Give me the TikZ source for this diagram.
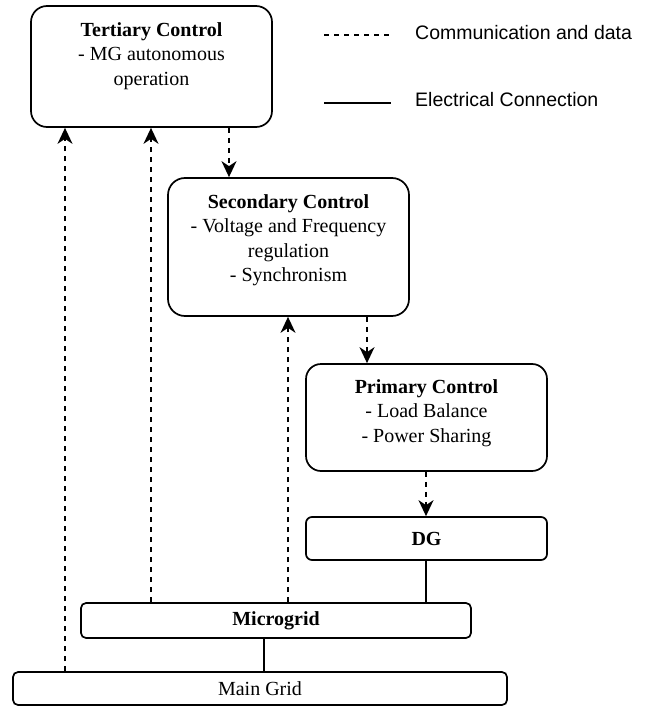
\documentclass[tikz,border=0pt]{standalone}
\usepackage{fontspec}
\setmainfont{Liberation Serif}
\newfontfamily\legendfont{Liberation Sans}
\usetikzlibrary{arrows.meta}
\begin{document}
\begin{tikzpicture}[x=1pt,y=-1pt,
  box/.style={draw, line width=1.7pt, inner sep=0pt,
    font=\fontsize{20}{24.5}\selectfont},
  txt/.style={align=center, inner sep=0pt, font=\fontsize{20}{24.5}\selectfont},
  comm/.style={line width=1.7pt, dash pattern=on 5.5pt off 4.5pt,
    -{Stealth[length=16pt,width=15pt,inset=5pt]}},
  elec/.style={line width=1.7pt},
  legtxt/.style={anchor=west, inner sep=0pt, font=\legendfont\fontsize{19.5}{23}\selectfont},
]
\useasboundingbox (0,0) rectangle (646,706);

% control hierarchy boxes
\node[box, rounded corners=16pt, minimum width=241pt, minimum height=121pt] (ter) at (151.5,66.5) {};
\node[txt, anchor=north] (terT) at (151.5,22.3) {\textbf{Tertiary Control}\\- MG autonomous\\operation};

\node[box, rounded corners=17pt, minimum width=241pt, minimum height=138pt] (sec) at (288.5,247) {};
\node[txt, anchor=north] (secT) at (288.5,194.3) {\textbf{Secondary Control}\\- Voltage and Frequency\\regulation\\- Synchronism};

\node[box, rounded corners=15pt, minimum width=241pt, minimum height=107pt] (pri) at (426.5,417.5) {};
\node[txt, anchor=north] (priT) at (426.5,379.3) {\textbf{Primary Control}\\- Load Balance\\- Power Sharing};

% grid elements
\node[box, rounded corners=6pt, minimum width=241pt, minimum height=43pt] (dg) at (426.5,538.5) {\textbf{DG}};
\node[box, rounded corners=5pt, minimum width=390pt, minimum height=35pt] (mg) at (276,620.5) {\textbf{Microgrid}};
\node[box, rounded corners=5pt, minimum width=494pt, minimum height=33pt] (main) at (260,688.5) {Main Grid};

% connector columns
\coordinate (cA) at (65,0);
\coordinate (cB) at (151,0);
\coordinate (cC) at (229,0);
\coordinate (cD) at (288,0);
\coordinate (cE) at (367,0);
\coordinate (cF) at (426,0);
\coordinate (cG) at (264,0);

% communication and data
\draw[comm] (ter.south -| cC) -- (sec.north -| cC);
\draw[comm] (sec.south -| cE) -- (pri.north -| cE);
\draw[comm] (pri.south -| cF) -- (dg.north -| cF);
\draw[comm] (main.north -| cA) -- (ter.south -| cA);
\draw[comm] (mg.north -| cB) -- (ter.south -| cB);
\draw[comm] (mg.north -| cD) -- (sec.south -| cD);

% electrical connections
\draw[elec] (dg.south -| cF) -- (mg.north -| cF);
\draw[elec] (mg.south -| cG) -- (main.north -| cG);

% legend
\coordinate (l1a) at (324,35);
\coordinate (l1b) at (391,35);
\coordinate (l2a) at (324,103);
\coordinate (l2b) at (391,103);
\draw[line width=1.5pt, dash pattern=on 5pt off 5pt] (l1a) -- (l1b);
\draw[elec] (l2a) -- (l2b);
\node[legtxt] (legC) at (415,33) {Communication and data};
\node[legtxt] (legE) at (415,100) {Electrical Connection};
\end{tikzpicture}
\end{document}
